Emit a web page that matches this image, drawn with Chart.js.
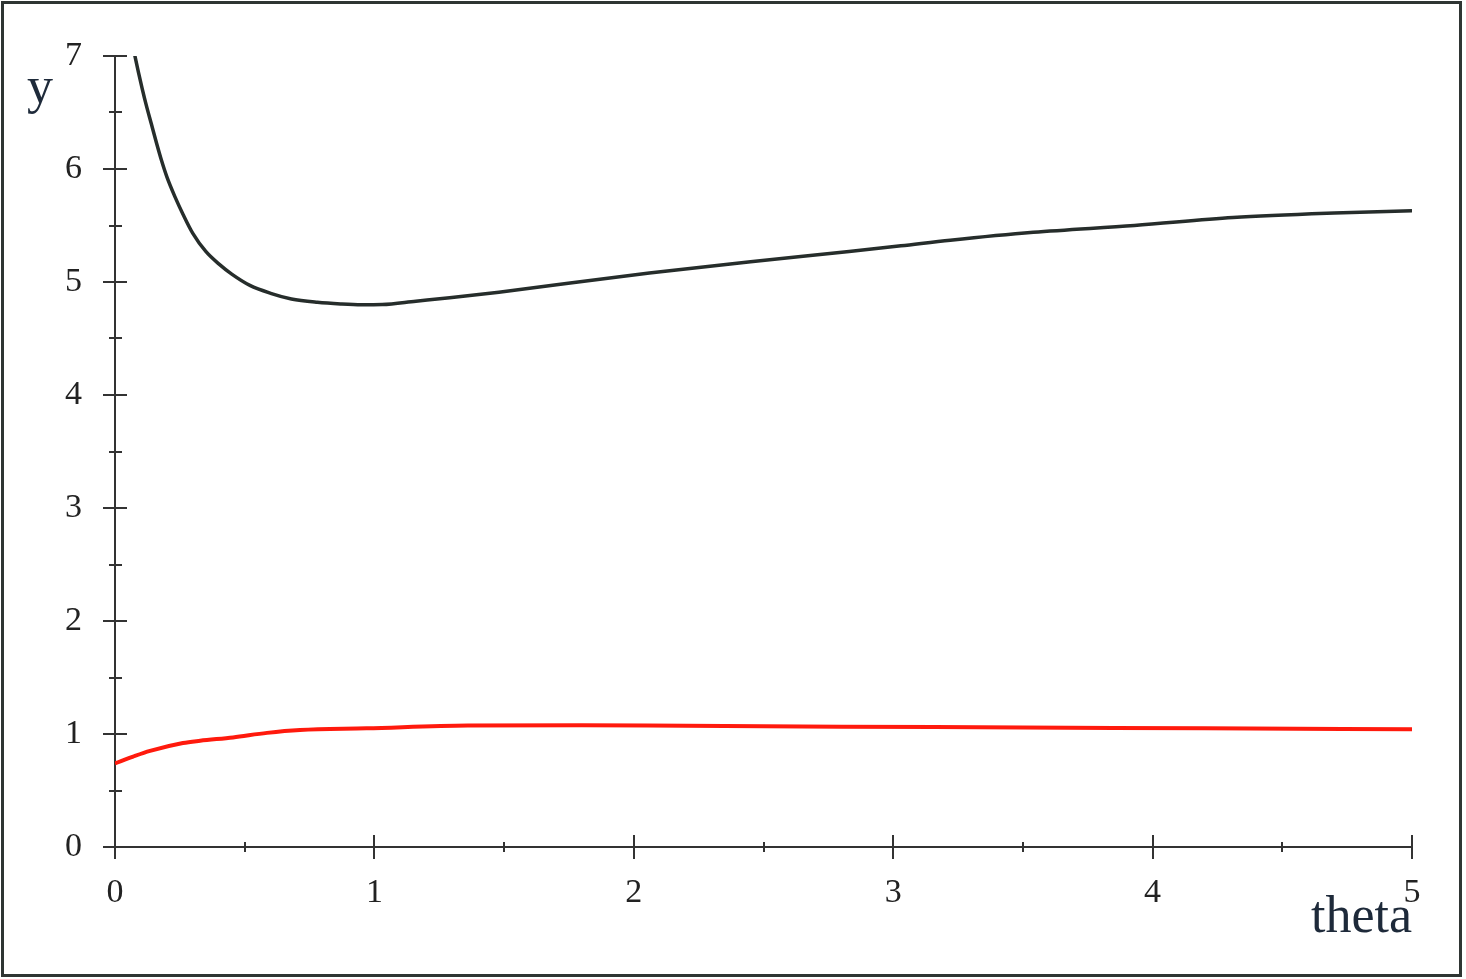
<!DOCTYPE html>
<html>
<head>
<meta charset="utf-8">
<script src="https://cdn.jsdelivr.net/npm/chart.js@4.4.1/dist/chart.umd.min.js"></script>
<style>
  html, body { margin: 0; padding: 0; background: #fff; }
  #wrap { width: 1466px; height: 979px; }
</style>
</head>
<body>
<div id="wrap"><canvas id="chart" width="1466" height="979"></canvas></div>
<script>
// values
const thetaUpper = [0.075, 0.09, 0.105, 0.12, 0.14, 0.16, 0.18, 0.20, 0.23, 0.262, 0.30, 0.35, 0.40, 0.45, 0.52, 0.60, 0.68, 0.78, 0.87, 0.95, 1.03, 1.16, 1.29, 1.48, 1.68, 2.06, 2.45, 2.83, 3.03, 3.22, 3.54, 3.93, 4.31, 4.70, 5.0];
const yUpper = [7.02, 6.86, 6.71, 6.57, 6.40, 6.23, 6.07, 5.93, 5.76, 5.60, 5.43, 5.27, 5.16, 5.07, 4.97, 4.90, 4.85, 4.82, 4.805, 4.798, 4.80, 4.83, 4.86, 4.91, 4.97, 5.08, 5.18, 5.27, 5.32, 5.37, 5.44, 5.50, 5.57, 5.61, 5.63];

const thetaLower = [0, 0.07, 0.135, 0.262, 0.328, 0.455, 0.586, 0.713, 0.97, 1.36, 1.8, 2.2, 2.8, 3.5, 4.2, 5.0];
const yLower = [0.74, 0.80, 0.85, 0.92, 0.94, 0.97, 1.01, 1.035, 1.05, 1.075, 1.078, 1.072, 1.065, 1.058, 1.05, 1.042];

const xMajor = [0, 1, 2, 3, 4, 5];
const xMinor = [0.5, 1.5, 2.5, 3.5, 4.5];
const yMajor = [0, 1, 2, 3, 4, 5, 6, 7];
const yMinor = [0.5, 1.5, 2.5, 3.5, 4.5, 5.5, 6.5];

const xTitle = "theta";
const yTitle = "y";

const toPoints = (xs, ys) => xs.map((x, i) => ({ x: x, y: ys[i] }));

const AXIS = "#333";
const FONT = "'Liberation Serif', 'Times New Roman', serif";

// cross ticks on both axes + outer frame + axis names
const decor = {
  id: "decor",
  afterDraw(chart) {
    const ctx = chart.ctx;
    const xs = chart.scales.x, ys = chart.scales.y;
    const x0 = xs.getPixelForValue(0);
    const y0 = ys.getPixelForValue(0);
    ctx.save();
    ctx.strokeStyle = AXIS;
    ctx.lineWidth = 2;
    ctx.beginPath();
    yMajor.forEach(v => {
      const p = Math.round(ys.getPixelForValue(v));
      ctx.moveTo(x0 - 12, p); ctx.lineTo(x0 + 12, p);
    });
    yMinor.forEach(v => {
      const p = Math.round(ys.getPixelForValue(v));
      ctx.moveTo(x0 - 6, p); ctx.lineTo(x0 + 7, p);
    });
    xMajor.forEach(v => {
      const p = Math.round(xs.getPixelForValue(v));
      ctx.moveTo(p, y0 - 12); ctx.lineTo(p, y0 + 12);
    });
    xMinor.forEach(v => {
      const p = Math.round(xs.getPixelForValue(v));
      ctx.moveTo(p, y0 - 5); ctx.lineTo(p, y0 + 5);
    });
    ctx.stroke();

    // frame
    ctx.lineWidth = 3;
    ctx.strokeStyle = "#2f3533";
    ctx.strokeRect(2.5, 2.5, 1458, 973);

    // axis names
    ctx.fillStyle = "#1e2a3a";
    ctx.font = "52px " + FONT;
    ctx.textBaseline = "alphabetic";
    ctx.textAlign = "left";
    ctx.fillText(yTitle, 27, 103);
    ctx.textAlign = "right";
    ctx.fillText(xTitle, 1412, 932);
    ctx.restore();
  }
};

new Chart(document.getElementById("chart"), {
  type: "line",
  data: {
    datasets: [
      {
        label: "upper",
        data: toPoints(thetaUpper, yUpper),
        borderColor: "#262d2b",
        borderWidth: 3.5,
        pointRadius: 0,
        cubicInterpolationMode: "monotone",
        fill: false
      },
      {
        label: "lower",
        data: toPoints(thetaLower, yLower),
        borderColor: "#ff1a0d",
        borderWidth: 4,
        pointRadius: 0,
        cubicInterpolationMode: "monotone",
        fill: false
      }
    ]
  },
  options: {
    responsive: false,
    animation: false,
    devicePixelRatio: 1,
    layout: { padding: { top: 56, right: 54, left: 0, bottom: 0 } },
    plugins: {
      legend: { display: false },
      tooltip: { enabled: false },
      title: { display: false }
    },
    scales: {
      x: {
        type: "linear",
        min: 0,
        max: 5,
        afterFit: s => { s.height = 132; },
        afterBuildTicks: s => { s.ticks = xMajor.map(v => ({ value: v })); },
        grid: { display: false },
        border: { display: true, color: AXIS, width: 2 },
        ticks: {
          padding: 18,
          color: "#222",
          font: { family: FONT, size: 34 },
          maxRotation: 0
        }
      },
      y: {
        type: "linear",
        min: 0,
        max: 7,
        afterFit: s => { s.width = 115; },
        afterBuildTicks: s => { s.ticks = yMajor.map(v => ({ value: v })); },
        grid: { display: false },
        border: { display: true, color: AXIS, width: 2 },
        ticks: {
          padding: 25,
          color: "#222",
          font: { family: FONT, size: 34 }
        }
      }
    }
  },
  plugins: [decor]
});
</script>
</body>
</html>
